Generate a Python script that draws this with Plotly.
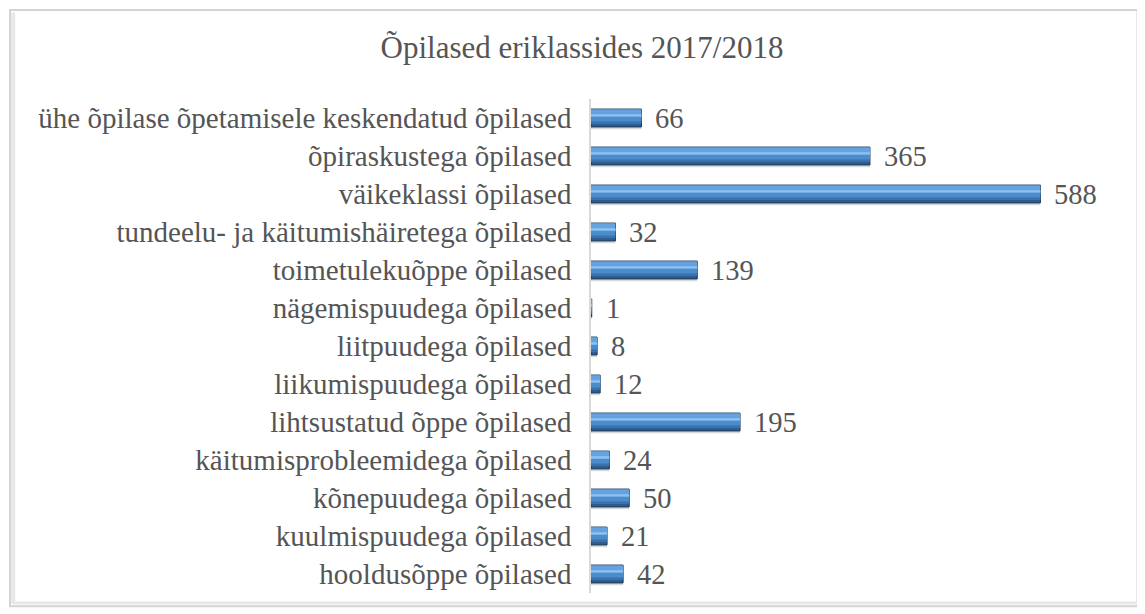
import plotly.graph_objects as go

categories = [
    "ühe õpilase õpetamisele keskendatud õpilased",
    "õpiraskustega õpilased",
    "väikeklassi õpilased",
    "tundeelu- ja käitumishäiretega õpilased",
    "toimetulekuõppe õpilased",
    "nägemispuudega õpilased",
    "liitpuudega õpilased",
    "liikumispuudega õpilased",
    "lihtsustatud õppe õpilased",
    "käitumisprobleemidega õpilased",
    "kõnepuudega õpilased",
    "kuulmispuudega õpilased",
    "hooldusõppe õpilased",
]
values = [66, 365, 588, 32, 139, 1, 8, 12, 195, 24, 50, 21, 42]
title_text = "Õpilased eriklassides 2017/2018"

FONT = "Liberation Serif, Times New Roman, serif"
TXT = "#555555"

fig = go.Figure()

def layer(offset, width, color, line=None):
    fig.add_trace(go.Bar(
        y=categories, x=values, orientation="h", width=width, offset=offset,
        marker=dict(color=color, line=line or dict(width=0)),
        hoverinfo="skip", showlegend=False))

# soft shadow
layer(-0.175, 0.47, "rgba(0,0,0,0.15)")
# dark base (bottom bevel / end cap)
layer(-0.235, 0.47, "#2d5d90", dict(color="#1b3857", width=1))
# light upper face
layer(-0.232, 0.23, "#64a3e0")
# bright highlight band
layer(-0.10, 0.07, "#8cc2f2")
# mid band
layer(-0.03, 0.13, "#4b8ccc")
# transition to darker bottom
layer(0.10, 0.06, "#3a72ab")

annotations = []
for c, v in zip(categories, values):
    annotations.append(dict(x=v, y=c, xref="x", yref="y", text=str(v), showarrow=False,
                            xanchor="left", yanchor="middle", xshift=12,
                            font=dict(family=FONT, size=28.5, color=TXT)))

# plot area (figure coords): x 583..1118, y 91..585
fig.update_layout(
    width=1137, height=606,
    barmode="overlay",
    paper_bgcolor="white", plot_bgcolor="white",
    margin=dict(l=583, r=19, t=91, b=21, autoexpand=False),
    title=dict(text=title_text, x=(582 - 8) / 1137, xref="container", xanchor="center",
               y=1 - 39 / 606, yref="container", yanchor="middle",
               font=dict(family=FONT, size=31, color=TXT)),
    xaxis=dict(range=[0, 700], visible=False, showgrid=False, zeroline=False, automargin=False),
    yaxis=dict(autorange="reversed", showline=True, linecolor="#d9d9d9", linewidth=1.5,
               ticks="", ticklabelstandoff=12, automargin=False,
               tickfont=dict(family=FONT, size=29, color=TXT), showgrid=False),
    annotations=annotations,
    shapes=[
        dict(type="rect", xref="paper", yref="paper", x0=-1.086, x1=1.0215, y0=-0.027, y1=1.18,
             line=dict(color="#d4d4d4", width=2), fillcolor="rgba(0,0,0,0)", layer="below"),
        dict(type="line", xref="paper", yref="paper", x0=-1.080, x1=-1.080, y0=-0.022, y1=1.175,
             line=dict(color="#e8e8e8", width=4), layer="below"),
        dict(type="line", xref="paper", yref="paper", x0=-1.080, x1=1.019, y0=-0.020, y1=-0.020,
             line=dict(color="#e8e8e8", width=3), layer="below"),
    ],
)

fig.write_html("out.html")
